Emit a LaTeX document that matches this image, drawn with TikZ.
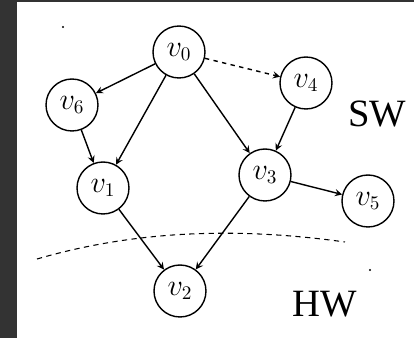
\documentclass[tikz,border=0pt]{standalone}
\usepackage{fontspec}
\setmainfont{Liberation Serif}
\usetikzlibrary{arrows}

\begin{document}
\begin{tikzpicture}[x=0.02cm, y=-0.02cm, >=stealth,
  vertex/.style={draw, circle, line width=0.8pt, minimum size=1.04cm, inner sep=0pt,
    font=\fontsize{16}{19}\selectfont},
  edge/.style={->, line width=0.8pt},
  layer/.style={font=\fontsize{22}{26}\selectfont}]

% frame
\fill [black!80] (0,0) rectangle (414,338);
\fill [white] (17,2) rectangle (414,338);
\useasboundingbox (0,0) rectangle (414,338);

% vertices
\foreach \n/\x/\y in {0/179/52, 1/103/188, 2/180/291, 3/265/175, 4/306/83, 5/368/201, 6/72/105}
  \node [vertex] (v-\n) at (\x,\y) {$v_{\n}$};

% edges
\foreach \i/\j in {0/6, 6/1, 0/1, 0/3, 4/3, 1/2, 3/2, 3/5}
  \draw [edge] (v-\i) -- (v-\j);

\draw [edge, dash pattern=on 2.5pt off 2.5pt] (v-0) -- (v-4);

% sw / hw boundary
\coordinate (bound-l) at (37,259);
\coordinate (bound-r) at (345,242);
\draw [line width=0.6pt, dash pattern=on 3pt off 2.5pt]
  (bound-l) .. controls (130,232) and (230,226) .. (bound-r);

% layers
\node [layer] (sw) at (377,114) {SW};
\node [layer] (hw) at (325,304) {HW};

% specks
\fill (63,27) circle (0.7pt);
\fill (370,270) circle (0.7pt);

\end{tikzpicture}
\end{document}
